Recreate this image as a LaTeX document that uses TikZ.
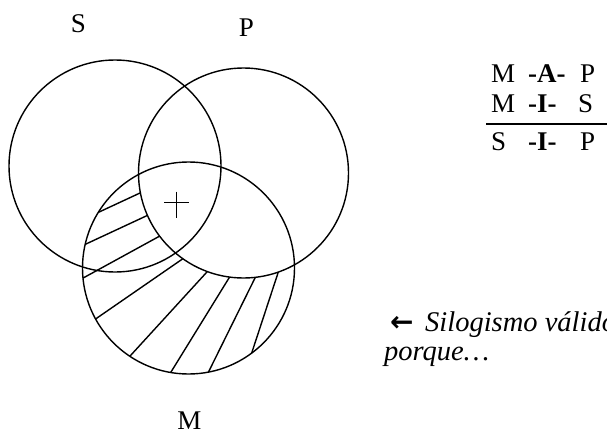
\documentclass[tikz,border=0pt]{standalone}
\usepackage{fontspec}
\setmainfont{Liberation Serif}
\newfontfamily\arrowfont{DejaVu Sans}
\begin{document}
\begin{tikzpicture}[x=1pt,y=-1pt,
  venn/.style={circle,draw,line width=1.4pt,minimum size=212pt,inner sep=0pt},
  hatch/.style={line width=1.4pt,shorten <=-8pt,shorten >=-8pt},
  lbl/.style={font=\fontsize{27}{31}\selectfont,inner sep=0pt},
  syl/.style={font=\fontsize{27}{31}\selectfont,anchor=base west,inner sep=0pt},
  note/.style={font=\fontsize{28.5}{32}\selectfont\itshape,anchor=base west,inner sep=0pt}]
\useasboundingbox (0,0) rectangle (607,439);
\node[venn] (S) at (115,166) {};
\node[venn,minimum size=210pt] (P) at (243.5,173) {};
\node[venn] (M) at (188.5,268) {};
\begin{scope}
  \clip (M.center) circle[radius=106pt];
  \begin{scope}[even odd rule]
  \clip (-50,-50) rectangle (700,500) (P.center) circle[radius=105pt];
  \draw[hatch] (97,213) -- (140,193);
  \draw[hatch] (86,244) -- (144,217);
  \draw[hatch] (85,277) -- (158,237);
  \draw[hatch] (97,318) -- (181,260);
  \draw[hatch] (131,355) -- (206,273);
  \draw[hatch] (171,372) -- (229,278);
  \draw[hatch] (209,371) -- (255,278);
  \draw[hatch] (253,349) -- (278,273);
  \end{scope}
\end{scope}
\draw[line width=1.2pt] (164,202.7) -- (189,202.7) (176.7,191.7) -- (176.7,218.3);
\node[lbl] (lS) at (78.3,23.3) {S};
\node[lbl] (lP) at (246.5,27.5) {P};
\node[lbl] (lM) at (189.5,421) {M};
\node[syl] (m1) at (491,82) {M};
\node[syl] (a1) at (528,82) {\textbf{-A-}};
\node[syl] (p1) at (580,82) {P};
\node[syl] (m2) at (491,112) {M};
\node[syl] (i2) at (528,112) {\textbf{-I-}};
\node[syl] (s2) at (578,112) {S};
\coordinate (rl) at (486,124);
\coordinate (rr) at (607,124);
\draw[line width=1.3pt] (rl) -- (rr);
\node[syl] (s3) at (491,150) {S};
\node[syl] (i3) at (528,150) {\textbf{-I-}};
\node[syl] (p3) at (580,150) {P};
\node[note] (arr) at (390,331) {\upshape\arrowfont\bfseries\fontsize{28}{30}\selectfont ←};
\node[note] (sil) at (425,331) {Silogismo válido};
\node[note] (porq) at (384,360) {porque…};
\end{tikzpicture}
\end{document}
